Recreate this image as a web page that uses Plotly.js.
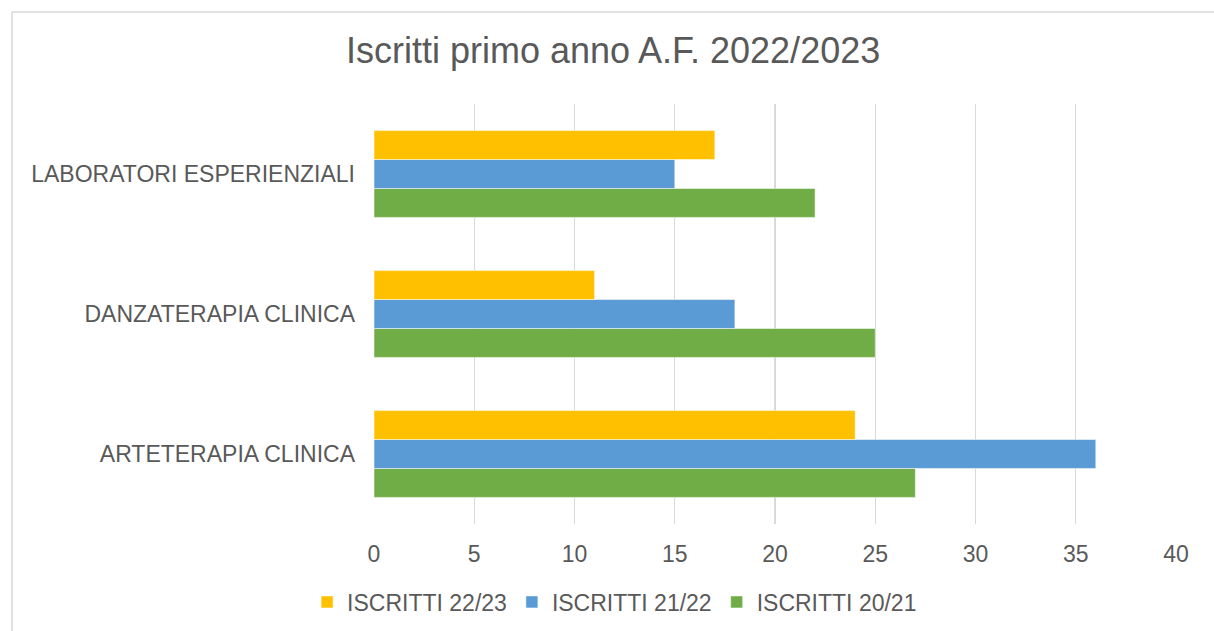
<!DOCTYPE html>
<html>
<head>
<meta charset="utf-8">
<script src="https://cdn.plot.ly/plotly-3.0.1.min.js"></script>
<style>
html,body{margin:0;padding:0;background:#fff;}
#chart{width:1214px;height:631px;}
</style>
</head>
<body>
<div id="chart"></div>
<script>
const categories = ["ARTETERAPIA CLINICA", "DANZATERAPIA CLINICA", "LABORATORI ESPERIENZIALI"];
const seriesNames = ["ISCRITTI 22/23", "ISCRITTI 21/22", "ISCRITTI 20/21"];
const iscritti2223 = [24, 11, 17];
const iscritti2122 = [36, 18, 15];
const iscritti2021 = [27, 25, 22];
const colors = ["#FFC000", "#5B9BD5", "#70AD47"];

const W = 1214, H = 631;
const mL = 374, mR = 38, mT = 104, mB = 107;
const pw = W - mL - mR, ph = H - mT - mB;

function mk(name, vals, color) {
  return {
    type: 'bar', orientation: 'h', name: name,
    y: categories, x: vals,
    marker: {color: color, line: {color: 'rgba(255,255,255,0.5)', width: 1}},
    hoverinfo: 'x+name'
  };
}
const data = [
  mk(seriesNames[2], iscritti2021, colors[2]),
  mk(seriesNames[1], iscritti2122, colors[1]),
  mk(seriesNames[0], iscritti2223, colors[0])
];

const FS = 23;
const layout = {
  width: W, height: H,
  margin: {l: mL, r: mR, t: mT, b: mB, pad: 0, autoexpand: false},
  paper_bgcolor: '#ffffff', plot_bgcolor: '#ffffff',
  font: {family: 'Liberation Sans, Arial, sans-serif', color: '#595959', size: FS},
  title: {text: 'Iscritti primo anno A.F. 2022/2023', x: 0.505, xanchor: 'center',
          y: 1 - 50 / H, yanchor: 'middle', yref: 'container',
          font: {size: 36, color: '#595959', family: 'Liberation Sans, Arial, sans-serif'}},
  barmode: 'group', bargap: 0.38, bargroupgap: 0,
  xaxis: {range: [0, 40], dtick: 5, tick0: 0, showgrid: true, gridcolor: '#D9D9D9', gridwidth: 1.3,
          zeroline: false, showline: false, ticks: '', ticklabelstandoff: 14,
          tickfont: {size: FS, color: '#595959'}, fixedrange: true},
  yaxis: {type: 'category', categoryorder: 'array', categoryarray: categories,
          showgrid: false, zeroline: false, showline: false, ticks: '',
          ticklabelstandoff: 18, tickfont: {size: FS, color: '#595959'}, fixedrange: true},
  legend: {orientation: 'h', x: 0.30, xanchor: 'center', y: (ph - (602 - mT)) / ph, yanchor: 'middle',
           traceorder: 'reversed', font: {size: FS, color: '#595959'}, itemwidth: 30},
  showlegend: true,
  shapes: [{
    type: 'rect', xref: 'paper', yref: 'paper',
    x0: (12 - mL) / pw, x1: (W + 20 - mL) / pw,
    y0: -(H + 20 - mT - ph) / ph, y1: (ph + mT - 12) / ph,
    line: {color: '#D9D9D9', width: 1.5}, fillcolor: 'rgba(0,0,0,0)', layer: 'below'
  }]
};

Plotly.newPlot('chart', data, layout, {displayModeBar: false, staticPlot: true});
</script>
</body>
</html>
